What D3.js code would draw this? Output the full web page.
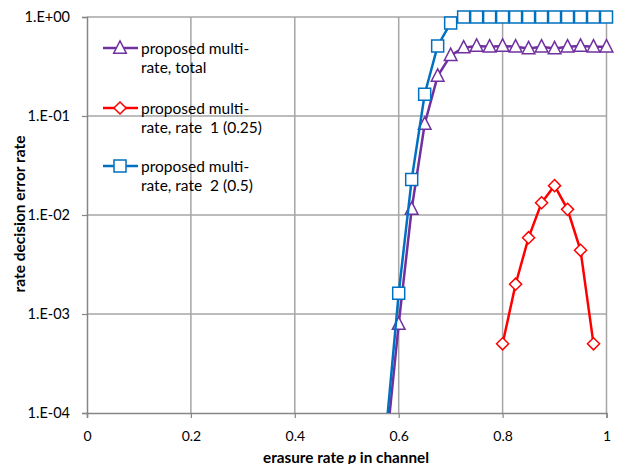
<!DOCTYPE html>
<html><head><meta charset="utf-8">
<script src="https://cdn.jsdelivr.net/npm/d3@7/dist/d3.min.js"></script>
<style>body{margin:0;background:#fff;} svg{display:block;font-family:Lato,"Open Sans",sans-serif;}</style>
</head><body>
<svg id="c" width="622" height="464"></svg>
<script>
// ---- data ----
const xTicks = [0, 0.2, 0.4, 0.6, 0.8, 1];
const xTickLabels = ["0", "0.2", "0.4", "0.6", "0.8", "1"];
const yTicks = [1, 0.1, 0.01, 0.001, 0.0001];
const yTickLabels = ["1.E+00", "1.E-01", "1.E-02", "1.E-03", "1.E-04"];

const pTotal = [0.575, 0.6, 0.625, 0.65, 0.675, 0.7, 0.725, 0.75, 0.775, 0.8, 0.825, 0.85, 0.875, 0.9, 0.925, 0.95, 0.975, 1.0];
const total  = [4e-5, 7.9e-4, 0.0115, 0.083, 0.253, 0.41, 0.49, 0.51, 0.50, 0.51, 0.50, 0.48, 0.50, 0.48, 0.50, 0.51, 0.50, 0.50];

const pRate1 = [0.8, 0.825, 0.85, 0.875, 0.9, 0.925, 0.95, 0.975];
const rate1  = [5e-4, 2.0e-3, 5.9e-3, 0.0133, 0.0198, 0.0114, 4.4e-3, 5e-4];

const pRate2 = [0.575, 0.6, 0.625, 0.65, 0.675, 0.7, 0.725, 0.75, 0.775, 0.8, 0.825, 0.85, 0.875, 0.9, 0.925, 0.95, 0.975, 1.0];
const rate2  = [6e-5, 1.62e-3, 0.0229, 0.166, 0.51, 0.87, 1.0, 1.0, 1.0, 1.0, 1.0, 1.0, 1.0, 1.0, 1.0, 1.0, 1.0, 1.0];

const seriesNames = ["proposed multi-|rate, total", "proposed multi-|rate, rate  1 (0.25)", "proposed multi-|rate, rate  2 (0.5)"];
const seriesColors = ["#7030A0", "#FF0000", "#0070C0"];
const seriesMarkers = ["triangle", "diamond", "square"];

// ---- chart ----
const svg = d3.select("#c");
const L = 87, R = 606.5, T = 17, B = 413;
const x = d3.scaleLinear().domain([0, 1]).range([L, R]);
const y = d3.scaleLog().domain([1e-4, 1]).range([B, T]);

const grid = "#A6A6A6", axisC = "#868686";

// gridlines
svg.append("g").selectAll("line").data(xTicks.slice(1)).join("line")
  .attr("x1", d => x(d)).attr("x2", d => x(d)).attr("y1", T).attr("y2", B)
  .attr("stroke", grid).attr("stroke-width", 1.5);
svg.append("g").selectAll("line").data(yTicks.slice(0, -1)).join("line")
  .attr("x1", L).attr("x2", R).attr("y1", d => y(d)).attr("y2", d => y(d))
  .attr("stroke", grid).attr("stroke-width", 1.5);

// axes
const xAxis = d3.axisBottom(x).tickValues(xTicks).tickFormat((d, i) => xTickLabels[i]).tickSize(5).tickPadding(13);
const gx = svg.append("g").attr("transform", `translate(0,${B})`).call(xAxis);
gx.select(".domain").attr("stroke", axisC).attr("stroke-width", 1.5);
gx.selectAll(".tick line").attr("stroke", axisC).attr("stroke-width", 1.2);
gx.selectAll("text").attr("font-size", 14).attr("fill", "#000").attr("font-family", "Lato");

const yAxis = d3.axisLeft(y).tickValues(yTicks).tickFormat((d, i) => yTickLabels[i]).tickSize(5).tickPadding(12);
const gy = svg.append("g").attr("transform", `translate(${L},0)`).call(yAxis);
gy.select(".domain").attr("stroke", axisC).attr("stroke-width", 1.5);
gy.selectAll(".tick line").attr("stroke", axisC).attr("stroke-width", 1.2);
gy.selectAll("text").attr("font-size", 14.5).attr("fill", "#000").attr("font-family", "Lato");

// axis titles (fit to measured reference widths)
function fit(sel, w) {
  const len = sel.node().getComputedTextLength();
  const fs = parseFloat(sel.attr("font-size"));
  sel.attr("font-size", fs * w / len);
}
const xt = svg.append("text").attr("x", 346).attr("y", 462.5).attr("text-anchor", "middle")
  .attr("font-size", 14).attr("font-weight", "bold").attr("fill", "#000")
  .html('erasure rate <tspan font-style="italic">p</tspan> in channel');
fit(xt, 166);
const yt = svg.append("text").attr("transform", "translate(25,214) rotate(-90)").attr("text-anchor", "middle")
  .attr("font-size", 14).attr("font-weight", "bold").attr("fill", "#000")
  .text("rate decision error rate");
fit(yt, 157);

// clip
svg.append("clipPath").attr("id", "clip").append("rect")
  .attr("x", L).attr("y", T - 10).attr("width", R - L + 10).attr("height", B - T + 10);

function markerPath(type, s) {
  if (type === "triangle") return `M0,${-s*0.62}L${s*0.55},${s*0.45}L${-s*0.55},${s*0.45}Z`;
  if (type === "diamond") return `M0,${-s*0.55}L${s*0.55},0L0,${s*0.55}L${-s*0.55},0Z`;
  return `M${-s/2},${-s/2}h${s}v${s}h${-s}Z`;
}

const series = [
  {xs: pTotal, ys: total},
  {xs: pRate1, ys: rate1},
  {xs: pRate2, ys: rate2}
];
const line = d3.line().x(d => x(d[0])).y(d => y(d[1]));
const sizes = [11.5, 11, 12];

series.forEach((s, i) => {
  const pts = s.xs.map((v, j) => [v, s.ys[j]]);
  svg.append("path").attr("d", line(pts)).attr("fill", "none")
    .attr("stroke", seriesColors[i]).attr("stroke-width", 2.5).attr("clip-path", "url(#clip)");
  svg.append("g").selectAll("path").data(pts.filter(d => d[1] >= 1e-4)).join("path")
    .attr("transform", d => `translate(${x(d[0])},${y(d[1])})`)
    .attr("d", markerPath(seriesMarkers[i], sizes[i]))
    .attr("fill", "#fff").attr("stroke", seriesColors[i]).attr("stroke-width", 1.5);
});

// legend
const legY = [48, 108, 166];
seriesNames.forEach((n, i) => {
  const g = svg.append("g").attr("transform", `translate(0,${legY[i]})`);
  g.append("line").attr("x1", 103).attr("x2", 138).attr("y1", 0).attr("y2", 0)
    .attr("stroke", seriesColors[i]).attr("stroke-width", 2.5);
  g.append("path").attr("transform", "translate(120,0)").attr("d", markerPath(seriesMarkers[i], sizes[i]))
    .attr("fill", "#fff").attr("stroke", seriesColors[i]).attr("stroke-width", 1.5);
  const parts = n.split("|");
  parts.forEach((p, k) => {
    g.append("text").attr("x", 141).attr("y", 5.5 + k * 19.5).attr("font-size", 15.5)
      .attr("fill", "#000").attr("xml:space", "preserve").style("white-space", "pre").text(p);
  });
});
</script>
</body></html>
